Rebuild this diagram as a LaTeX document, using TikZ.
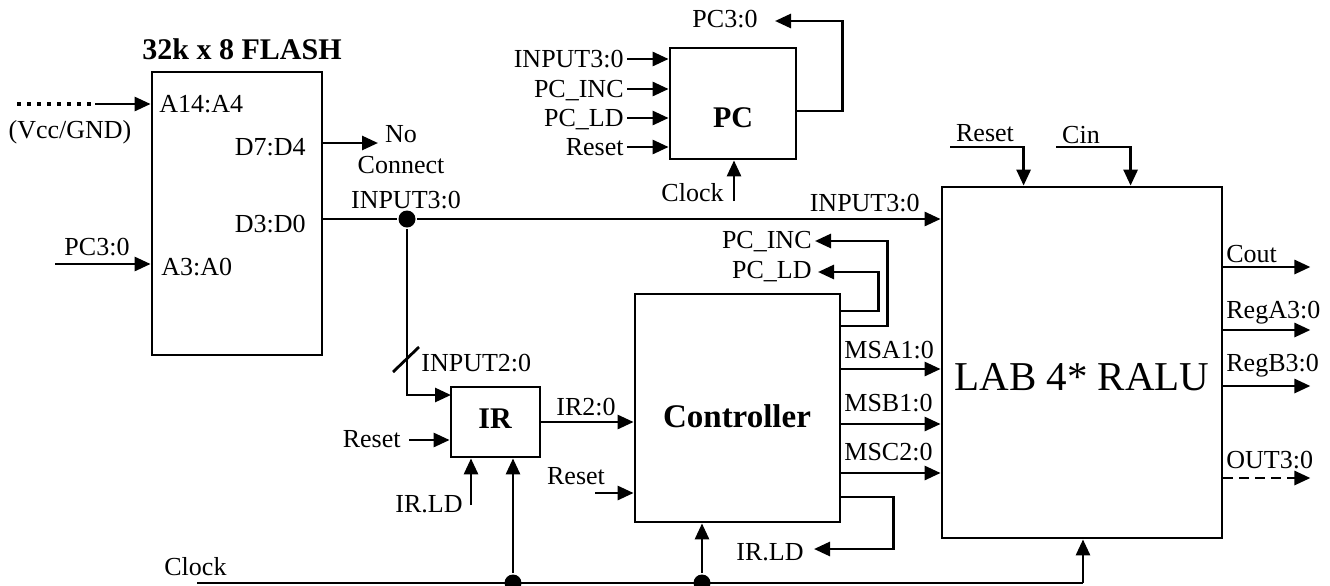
\documentclass[tikz,border=0pt]{standalone}
\usepackage{fontspec}
\setmainfont{Liberation Serif}
\usetikzlibrary{arrows.meta,calc,positioning}
\tikzset{>={Triangle[length=8pt,width=7pt]},
  every node/.style={font=\fontsize{13}{15.5}\selectfont,inner sep=0pt},
  block/.style={draw,rectangle,inner sep=0pt},
  blockname/.style={font=\fontsize{15}{18}\selectfont\bfseries,anchor=base},
  junction/.style={circle,fill,inner sep=0pt,minimum size=8.5pt},
  tied/.style={dash pattern=on 2pt off 3pt,line width=1.8pt},
  open/.style={->,dash pattern=on 5pt off 3pt}}

\begin{document}
\begin{tikzpicture}[x=0.5pt,y=-0.5pt,line width=1.4pt]
\useasboundingbox (0,0) rectangle (1330,585);
% blocks
\node[block,minimum width=85pt,minimum height=141.5pt] (flash) at (237,213.5) {};
\node[block,minimum width=63pt,minimum height=55.5pt] (pc) at (733,103.5) {};
\node[block,minimum width=44.5pt,minimum height=35pt] (ir) at (495.5,422) {};
\node[block,minimum width=102.5pt,minimum height=114pt] (ctrl) at (737.5,408) {};
\node[block,minimum width=140pt,minimum height=175.5pt] (ralu) at (1082,362.5) {};
\node[blockname] (flashname) at (242,59) {32k x 8 FLASH};
\node[blockname] (pcname) at (733,127) {PC};
\node[blockname] (irname) at (495,428) {IR};
\node[blockname,font=\fontsize{16.5}{19}\selectfont\bfseries] (ctrlname) at (737,427) {Controller};
\node[anchor=base,font=\fontsize{20.5}{24}\selectfont] (raluname) at (1082,390) {LAB 4* RALU};
% flash pins
\node[anchor=base west] (a14) at (158,112) {A14:A4};
\node[anchor=base east] (d74) at (307,155) {D7:D4};
\node[anchor=base east] (d30) at (307,232) {D3:D0};
\node[anchor=base west] (a30) at (160,275) {A3:A0};
\coordinate (vcc) at (17,104);
\coordinate (vccend) at (95,104);
\draw[tied] (vcc) -- (vccend);
\draw[->] (vccend) -- (vccend -| flash.west);
\node[anchor=base] (vcclbl) at (70,138) {(Vcc/GND)};
\coordinate (pcin) at (55,264);
\draw[->] (pcin) -- (pcin -| flash.west);
\node[anchor=base] (pcinlbl) at (97,255) {PC3:0};
\coordinate (nc) at (378,143);
\draw[->] (nc -| flash.east) -- (nc);
\node[anchor=base] (nolbl) at (401,142) {No};
\node[anchor=base] (connlbl) at (401,173) {Connect};
% data bus
\node[junction] (split) at (407,219) {};
\draw (split -| flash.east) -- (split);
\draw[->] (split) -- (split -| ralu.west);
\node[anchor=base] (buslbl) at (406,208) {INPUT3:0};
\node[anchor=base east] (alulbl) at (921,211) {INPUT3:0};
\coordinate (irin) at (451,395);
\draw[->] (split) |- (irin);
\draw ($(split)+(-14,153)$) -- ++(26,-25);
\node[anchor=base west] (ir2lbl) at (420,371) {INPUT2:0};
% IR
\coordinate (irrst) at (409,440);
\draw[->] (irrst) -- (irrst -| ir.west);
\node[anchor=base east] (irrstlbl) at (402,447) {Reset};
\coordinate (irld) at (471,505);
\draw[->] (irld) -- (irld |- ir.south);
\node[anchor=base east] (irldlbl) at (464,512) {IR.LD};
\draw[->] (ir.east) -- (ir.east -| ctrl.west);
\node[anchor=base] (irbuslbl) at (586,415) {IR2:0};
% clock
\coordinate (clk) at (197,583);
\node[junction] (clkir) at (513,583) {};
\node[junction] (clkctrl) at (702,583) {};
\coordinate (clkralu) at (1083,583);
\draw (clk) -- (clkralu);
\draw[->] (clkir) -- (clkir |- ir.south);
\draw[->] (clkctrl) -- (clkctrl |- ctrl.south);
\draw[->] (clkralu) -- (clkralu |- ralu.south);
\node[anchor=base west] (clklbl) at (163,575) {Clock};
% controller
\coordinate (ctrlrst) at (595,493);
\draw[->] (ctrlrst) -- (ctrlrst -| ctrl.west);
\node[anchor=base] (ctrlrstlbl) at (576,484) {Reset};
\foreach \y/\b/\name in {369/358/MSA1:0,424/411/MSB1:0,473/460/MSC2:0}{
\coordinate (ms\y) at (ctrl.east |- 0,\y);
\draw[->] (ms\y) -- (ms\y -| ralu.west);
\node[anchor=base west] (mslbl\y) at (843,\b) {\name};}
\coordinate (incout) at (ctrl.east |- 0,326);
\coordinate (inctip) at (815,241);
\draw[->] (incout) -- ++(46,0) |- (inctip);
\node[anchor=base east] (inclbl) at (813,248) {PC\_INC};
\coordinate (ldout) at (ctrl.east |- 0,311);
\coordinate (ldtip) at (818,272);
\draw[->] (ldout) -- ++(37,0) |- (ldtip);
\node[anchor=base east] (ldlbl) at (813,278) {PC\_LD};
\coordinate (irldout) at (ctrl.east |- 0,497);
\coordinate (irldtip) at (814,549);
\draw[->] (irldout) -- ++(52,0) |- (irldtip);
\node[anchor=base east] (irldoutlbl) at (805,560) {IR.LD};
% PC
\foreach \y/\name/\n in {59/INPUT3:0/1,89/PC\_INC/2,118/PC\_LD/3,147/Reset/4}{
\coordinate (pcin\n) at (627,\y);
\draw[->] (pcin\n) -- (pcin\n -| pc.west);
\node[anchor=base east] (pclbl\n) at (625,\y+8) {\name};}
\coordinate (pcout) at (pc.east |- 0,111);
\coordinate (pctip) at (775,21);
\draw[->] (pcout) -- ++(45,0) |- (pctip);
\node[anchor=base] (pcoutlbl) at (725,27) {PC3:0};
\coordinate (pcclk) at (734,201);
\draw[->] (pcclk) -- (pcclk |- pc.south);
\node[anchor=base east] (pcclklbl) at (725,201) {Clock};
% RALU
\coordinate (rrst) at (950,147);
\draw[->] (rrst) -| ($(ralu.north west)+(83,0)$);
\node[anchor=base] (rrstlbl) at (985,141) {Reset};
\coordinate (cin) at (1056,147);
\draw[->] (cin) -| ($(ralu.north west)+(190,0)$);
\node[anchor=base] (cinlbl) at (1081,143) {Cin};
\foreach \y/\b/\name in {267/262/Cout,330/318/RegA3:0,386/371/RegB3:0}{
\coordinate (rout\y) at (ralu.east |- 0,\y);
\draw[->] (rout\y) -- ++(87,0);
\node[anchor=base west] (routlbl\y) at (1225,\b) {\name};}
\coordinate (out) at (ralu.east |- 0,478);
\draw[open] (out) -- ++(87,0);
\node[anchor=base west] (outlbl) at (1225,468) {OUT3:0};
\end{tikzpicture}
\end{document}
